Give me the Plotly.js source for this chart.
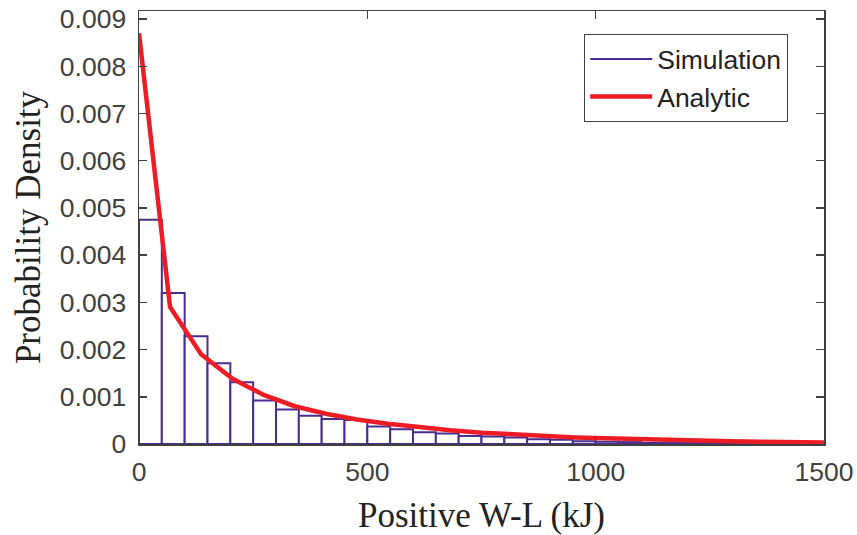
<!DOCTYPE html>
<html>
<head>
<meta charset="utf-8">
<script src="https://cdn.plot.ly/plotly-3.0.1.min.js"></script>
<style>html,body{margin:0;padding:0;background:#fff;}#chart{width:857px;height:535px;}</style>
</head>
<body>
<div id="chart"></div>
<script>
// Histogram bin centres (kJ), bin width 50
const binCenters = [25,75,125,175,225,275,325,375,425,475,525,575,625,675,725,775,825,875,925,975,1025,1075,1125,1175,1225,1275,1325,1375,1425,1475];
// Simulation probability density per bin
const simDensity = [0.00475,0.00320,0.00228,0.00171,0.00131,0.00092,0.00073,0.00060,0.00053,0.00051,0.00037,0.00031,0.00025,0.00022,0.00017,0.00016,0.00014,0.00010,0.00009,0.00006,0.00005,0.00004,0.000025,0.00002,0.00002,0.000015,0.000012,0.00001,0.00001,0.000008];
// Analytic curve sample points
const anaX = [0,68,136,205,273,341,409,477,545,614,682,750,818,886,955,1023,1091,1159,1227,1295,1364,1432,1500];
const anaY = [0.0087,0.00290,0.00190,0.00138,0.00104,0.00080,0.00064,0.00052,0.00043,0.00035,0.00029,0.00024,0.00020,0.00017,0.00014,0.00012,0.00010,0.00008,0.00007,0.00006,0.00005,0.00004,0.00003];
// Tick labels
const yTickVals = [0,0.001,0.002,0.003,0.004,0.005,0.006,0.007,0.008,0.009];
const yTickText = ['0','0.001','0.002','0.003','0.004','0.005','0.006','0.007','0.008','0.009'];
const xTickVals = [0,500,1000,1500];
const xTickText = ['0','500','1000','1500'];

const purple = '#4B2D91';
const red = '#ED1C24';
const axisCol = '#404040';
const tickFont = {family:'"Liberation Sans", Arial, sans-serif', size:26.5, color:axisCol};
const titleFont = {family:'"Liberation Serif", "Times New Roman", serif', size:35, color:'#222222'};

const traces = [
  {type:'bar', x:binCenters, y:simDensity, width:50, name:'Simulation', showlegend:false,
   marker:{color:'#ffffff', line:{color:purple, width:2}}},
  {type:'scatter', mode:'lines', x:[null], y:[null], name:'Simulation',
   line:{color:purple, width:2}},
  {type:'scatter', mode:'lines', x:anaX, y:anaY, name:'Analytic',
   line:{color:red, width:4.5}}
];

const layout = {
  width:857, height:535,
  margin:{l:139, r:33, t:11, b:91},
  paper_bgcolor:'#ffffff', plot_bgcolor:'#ffffff',
  bargap:0,
  showlegend:true,
  legend:{x:(788-139)/685, xanchor:'right', y:(443.5-34)/432.5, yanchor:'top',
    bgcolor:'#ffffff', bordercolor:axisCol, borderwidth:1.2,
    font:{family:'"Liberation Sans", Arial, sans-serif', size:26.5, color:'#222222'},
    itemwidth:62, tracegroupgap:0},
  xaxis:{range:[0,1500], tickvals:xTickVals, ticktext:xTickText,
    ticks:'inside', ticklen:8, tickcolor:axisCol, tickwidth:1.5,
    showline:true, linecolor:axisCol, linewidth:1.5, mirror:'ticks',
    showgrid:false, zeroline:false, tickfont:tickFont, ticklabelstandoff:4,
    title:{text:'Positive W-L (kJ)', font:titleFont, standoff:18}},
  yaxis:{range:[0,0.00917], tickvals:yTickVals, ticktext:yTickText,
    ticks:'inside', ticklen:8, tickcolor:axisCol, tickwidth:1.5,
    showline:true, linecolor:axisCol, linewidth:1.5, mirror:'ticks',
    showgrid:false, zeroline:false, tickfont:tickFont, ticklabelstandoff:6,
    title:{text:'Probability Density', font:titleFont, standoff:8}}
};

Plotly.newPlot('chart', traces, layout, {staticPlot:true, displayModeBar:false});
</script>
</body>
</html>
